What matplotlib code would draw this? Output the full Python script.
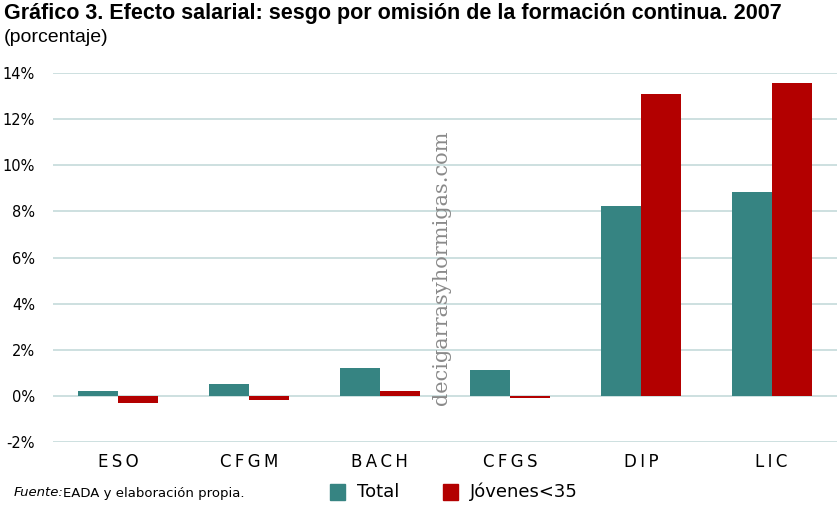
import matplotlib
matplotlib.use("Agg")
import matplotlib.pyplot as plt
import numpy as np
from matplotlib.patches import Rectangle

categories = ["ESO", "CFGM", "BACH", "CFGS", "DIP", "LIC"]
total = [0.22, 0.53, 1.2, 1.13, 8.23, 8.84]
jovenes = [-0.29, -0.2, 0.2, -0.1, 13.1, 13.55]
yticks = [-2, 0, 2, 4, 6, 8, 10, 12, 14]
series_names = ["Total", "Jóvenes<35"]

TEAL = "#368482"
RED = "#B30000"
GRID = "#C5DADA"

plt.rcParams['font.family'] = ['DejaVu Sans']
fig = plt.figure(figsize=(8.39, 5.14), dpi=100)
W, H = 839, 514
ax = fig.add_axes([53 / W, 1 - 442 / H, (837 - 53) / W, (442 - 73) / H])

x = np.arange(len(categories))
bw = 0.306
ax.bar(x - bw / 2, total, bw, color=TEAL, zorder=3)
ax.bar(x + bw / 2, jovenes, bw, color=RED, zorder=3)

ax.set_xlim(-0.5, len(categories) - 0.5)
ax.set_ylim(-2, 14)
ax.set_yticks(yticks)
ax.set_yticklabels([f"{t}%" for t in yticks], fontsize=10.5)
ax.yaxis.grid(True, color=GRID, linewidth=1.2, zorder=0)
ax.tick_params(axis='y', length=0, pad=13)
ax.tick_params(axis='x', length=0, pad=8)
ax.set_xticks(x)
ax.set_xticklabels(["\u2009".join(c) for c in categories], fontsize=12)
for s in ax.spines.values():
    s.set_visible(False)

# Title
fig.text(4 / W, 1 - 14 / H, "Gráfico 3. Efecto salarial: sesgo por omisión de la formación continua. 2007",
         fontsize=15.5, fontweight='bold', family=['Liberation Sans', 'DejaVu Sans'],
         va='center', ha='left')
fig.text(4 / W, 1 - 38 / H, "(porcentaje)", fontsize=14,
         family=['Liberation Sans', 'DejaVu Sans'], va='center', ha='left')

# Watermark
fig.text(441 / W, 1 - 268 / H, "decigarrasyhormigas.com", rotation=90, fontsize=15,
         family=['DejaVu Serif'], color='#8A8A8A', ha='center', va='center')

# Source
fig.text(14 / W, 1 - 493 / H, "Fuente:", fontsize=9.5, style='italic', va='center', ha='left')
fig.text(63 / W, 1 - 493 / H, "EADA y elaboración propia.", fontsize=9.5, va='center', ha='left')

# Legend
for (lx, tx, col, name) in [(330, 357, TEAL, series_names[0]), (443, 470, RED, series_names[1])]:
    fig.patches.append(Rectangle((lx / W, 1 - 500 / H), 15 / W, 16 / H,
                                 transform=fig.transFigure, color=col, figure=fig))
    fig.text(tx / W, 1 - 492 / H, name, fontsize=13, va='center', ha='left')

fig.savefig("out.png", dpi=100)
